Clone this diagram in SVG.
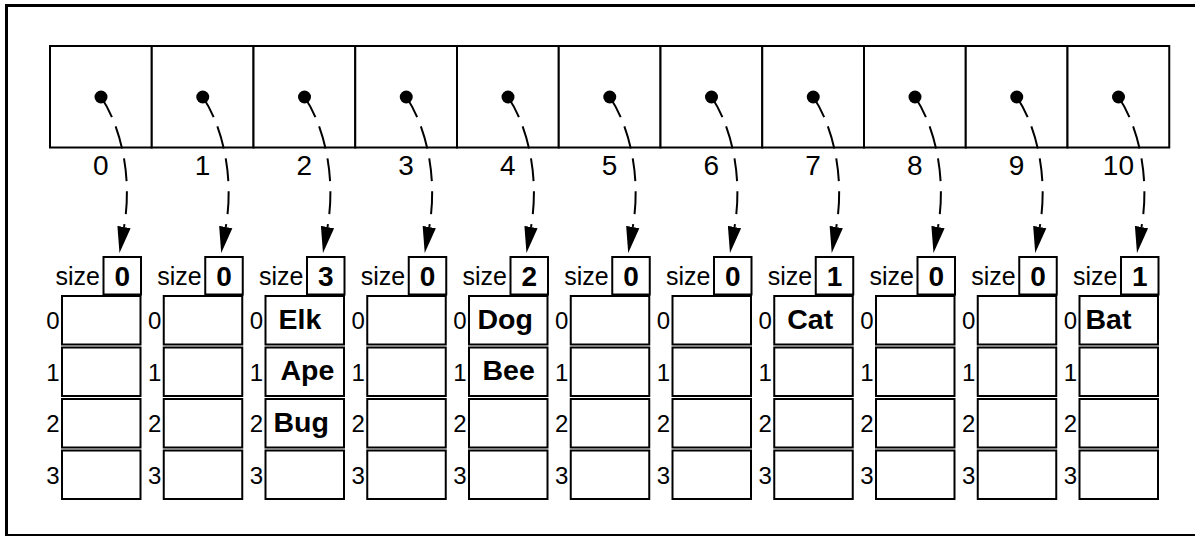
<svg xmlns="http://www.w3.org/2000/svg" width="1195" height="536" viewBox="0 0 1195 536">
<style>
.box{fill:#fff;stroke:#000;stroke-width:2}
.lbl{font-family:"Liberation Sans",Arial,sans-serif;font-size:28px;fill:#000;text-anchor:middle}
.idx{font-family:"Liberation Sans",Arial,sans-serif;font-size:24px;fill:#000;text-anchor:end}
.sz{font-family:"Liberation Sans",Arial,sans-serif;font-size:25px;fill:#000;text-anchor:end}
.szv{font-family:"Liberation Sans",Arial,sans-serif;font-size:28px;font-weight:bold;fill:#000;text-anchor:middle}
.val{font-family:"Liberation Sans",Arial,sans-serif;font-size:28.5px;font-weight:bold;fill:#000}
.conn{fill:none;stroke:#000;stroke-width:2;stroke-dasharray:23 10}
</style>
<defs>
<marker id="arr" markerUnits="userSpaceOnUse" markerWidth="30" markerHeight="16" viewBox="0 -8 30 16" refX="0" refY="0" orient="auto">
<path d="M0,-6.7 L26.5,0 L0,6.7 Z" fill="#000"/>
</marker>
<g id="cellShape">
<rect class="box" x="50" y="46" width="101.75" height="101.5"/>
<circle cx="101" cy="97" r="6.5" fill="#000"/>
</g>
<g id="slots">
<rect class="box" x="103.5" y="257" width="37.5" height="37.5"/>
<text class="sz" x="100" y="285">size</text>
<rect class="box" x="62" y="296" width="78.5" height="48.5"/>
<rect class="box" x="62" y="347.5" width="78.5" height="48.5"/>
<rect class="box" x="62" y="399" width="78.5" height="48.5"/>
<rect class="box" x="62" y="450.5" width="78.5" height="48.5"/>
<text class="idx" x="59.5" y="329">0</text>
<text class="idx" x="59.5" y="380.5">1</text>
<text class="idx" x="59.5" y="432">2</text>
<text class="idx" x="59.5" y="483.5">3</text>
</g>
</defs>
<rect x="0" y="0" width="1195" height="536" fill="#fff"/>
<rect x="6.5" y="5.5" width="1200" height="530" fill="none" stroke="#000" stroke-width="3"/>

<g id="cell0" transform="translate(0,0)"><use href="#cellShape"/><text class="lbl" x="100.9" y="175">0</text></g>
<g id="cell1" transform="translate(101.75,0)"><use href="#cellShape"/><text class="lbl" x="100.9" y="175">1</text></g>
<g id="cell2" transform="translate(203.5,0)"><use href="#cellShape"/><text class="lbl" x="100.9" y="175">2</text></g>
<g id="cell3" transform="translate(305.25,0)"><use href="#cellShape"/><text class="lbl" x="100.9" y="175">3</text></g>
<g id="cell4" transform="translate(407,0)"><use href="#cellShape"/><text class="lbl" x="100.9" y="175">4</text></g>
<g id="cell5" transform="translate(508.75,0)"><use href="#cellShape"/><text class="lbl" x="100.9" y="175">5</text></g>
<g id="cell6" transform="translate(610.5,0)"><use href="#cellShape"/><text class="lbl" x="100.9" y="175">6</text></g>
<g id="cell7" transform="translate(712.25,0)"><use href="#cellShape"/><text class="lbl" x="100.9" y="175">7</text></g>
<g id="cell8" transform="translate(814,0)"><use href="#cellShape"/><text class="lbl" x="100.9" y="175">8</text></g>
<g id="cell9" transform="translate(915.75,0)"><use href="#cellShape"/><text class="lbl" x="100.9" y="175">9</text></g>
<g id="cell10" transform="translate(1017.5,0)"><use href="#cellShape"/><text class="lbl" x="100.9" y="175">10</text></g>

<g id="bucket0" transform="translate(0,0)"><use href="#slots"/><text class="szv" x="122.25" y="285.5">0</text></g>
<g id="bucket1" transform="translate(101.75,0)"><use href="#slots"/><text class="szv" x="122.25" y="285.5">0</text></g>
<g id="bucket2" transform="translate(203.5,0)"><use href="#slots"/><text class="szv" x="122.25" y="285.5">3</text>
<text class="val" x="75" y="328.5">Elk</text><text class="val" x="77" y="380">Ape</text><text class="val" x="70" y="431.5">Bug</text></g>
<g id="bucket3" transform="translate(305.25,0)"><use href="#slots"/><text class="szv" x="122.25" y="285.5">0</text></g>
<g id="bucket4" transform="translate(407,0)"><use href="#slots"/><text class="szv" x="122.25" y="285.5">2</text>
<text class="val" x="70.5" y="328.5">Dog</text><text class="val" x="75.5" y="380">Bee</text></g>
<g id="bucket5" transform="translate(508.75,0)"><use href="#slots"/><text class="szv" x="122.25" y="285.5">0</text></g>
<g id="bucket6" transform="translate(610.5,0)"><use href="#slots"/><text class="szv" x="122.25" y="285.5">0</text></g>
<g id="bucket7" transform="translate(712.25,0)"><use href="#slots"/><text class="szv" x="122.25" y="285.5">1</text>
<text class="val" x="75" y="328.5">Cat</text></g>
<g id="bucket8" transform="translate(814,0)"><use href="#slots"/><text class="szv" x="122.25" y="285.5">0</text></g>
<g id="bucket9" transform="translate(915.75,0)"><use href="#slots"/><text class="szv" x="122.25" y="285.5">0</text></g>
<g id="bucket10" transform="translate(1017.5,0)"><use href="#slots"/><text class="szv" x="122.25" y="285.5">1</text>
<text class="val" x="68" y="328.5">Bat</text></g>

<g id="connectors">
<path class="conn" marker-end="url(#arr)" transform="translate(0,0)" d="M101,97 C120,125 133,175 124,227"/>
<path class="conn" marker-end="url(#arr)" transform="translate(101.75,0)" d="M101,97 C120,125 133,175 124,227"/>
<path class="conn" marker-end="url(#arr)" transform="translate(203.5,0)" d="M101,97 C120,125 133,175 124,227"/>
<path class="conn" marker-end="url(#arr)" transform="translate(305.25,0)" d="M101,97 C120,125 133,175 124,227"/>
<path class="conn" marker-end="url(#arr)" transform="translate(407,0)" d="M101,97 C120,125 133,175 124,227"/>
<path class="conn" marker-end="url(#arr)" transform="translate(508.75,0)" d="M101,97 C120,125 133,175 124,227"/>
<path class="conn" marker-end="url(#arr)" transform="translate(610.5,0)" d="M101,97 C120,125 133,175 124,227"/>
<path class="conn" marker-end="url(#arr)" transform="translate(712.25,0)" d="M101,97 C120,125 133,175 124,227"/>
<path class="conn" marker-end="url(#arr)" transform="translate(814,0)" d="M101,97 C120,125 133,175 124,227"/>
<path class="conn" marker-end="url(#arr)" transform="translate(915.75,0)" d="M101,97 C120,125 133,175 124,227"/>
<path class="conn" marker-end="url(#arr)" transform="translate(1017.5,0)" d="M101,97 C120,125 133,175 124,227"/>
</g>
</svg>
